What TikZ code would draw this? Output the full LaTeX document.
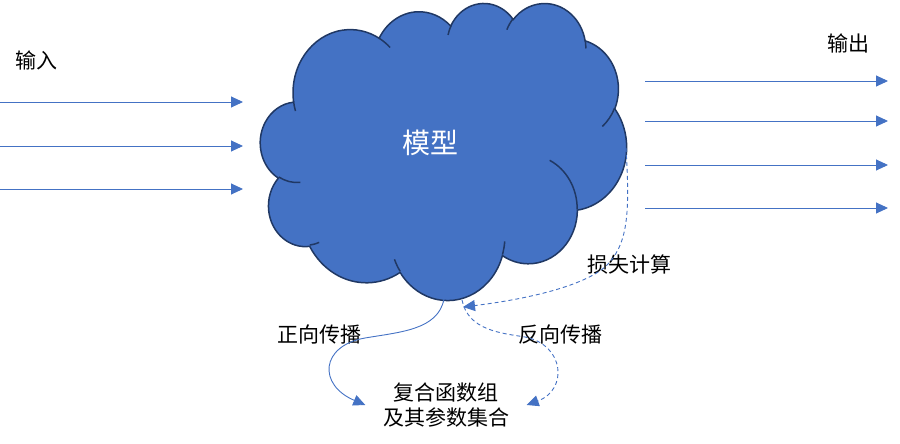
\documentclass[tikz,border=0pt]{standalone}
\usepackage{fontspec}
\setmainfont{Noto Sans CJK SC}
\usetikzlibrary{arrows.meta}

\definecolor{cloudblue}{HTML}{4472C4}
\definecolor{cloudedge}{HTML}{203864}

% one puff of the cloud: radii, start and sweep angle (office style angles)
\newcommand\cloudarc[4]{%
  \pgfextra{%
    \pgfmathparse{atan2(#1*sin(#3),#2*cos(#3))}\xdef\cas{\pgfmathresult}%
    \pgfmathparse{atan2(#1*sin(#3+#4),#2*cos(#3+#4))}\xdef\cae{\pgfmathresult}%
    \pgfmathparse{\cae-\cas-360*round((\cae-\cas-(#4))/360)}\xdef\cad{\pgfmathresult}%
  }
  arc[start angle=\cas, delta angle=\cad, x radius=#1, y radius=#2]}

\begin{document}
\begin{tikzpicture}[x=1pt,y=-1pt,
  feed/.style={draw=cloudblue, line width=0.9pt, -{Triangle[length=12pt,width=11pt]}},
  backfeed/.style={feed, dash pattern=on 4pt off 3pt},
  cloudshape/.style={draw=cloudedge, line width=1.5pt, fill=cloudblue},
  tag/.style={font=\fontsize{21}{25}\selectfont}]
\useasboundingbox (0,0) rectangle (900,444);

% the model cloud
\begin{scope}[shift={(260.5,2.5)}, x=0.84722pt, y=-0.6875pt]
\filldraw[cloudshape] (39.00,143.70)
  \cloudarc{67.53}{91.90}{-190.4875}{123.7805}
  \cloudarc{53.33}{72.67}{-144.1024}{89.9452}
  \cloudarc{43.65}{59.45}{-145.8079}{99.7230}
  \cloudarc{48.57}{65.95}{-130.9861}{117.2417}
  \cloudarc{53.33}{72.73}{-78.7089}{109.0269}
  \cloudarc{67.75}{92.20}{-46.2673}{130.2690}
  \cloudarc{57.85}{78.67}{0.6250}{114.0333}
  \cloudarc{67.52}{92.15}{22.4516}{115.1726}
  \cloudarc{77.20}{105.43}{66.2426}{75.7110}
  \cloudarc{43.60}{59.18}{-274.9421}{146.7356}
  \cloudarc{43.45}{59.45}{-246.8285}{152.5189}
  -- cycle;
\draw[cloudshape, fill=none]
  (46.93,261.77) \cloudarc{43.45}{59.45}{86.7420}{26.4295}
  (69.28,348.99) \cloudarc{43.60}{59.18}{73.6105}{11.4475}
  (164.78,390.90) \cloudarc{67.52}{92.15}{137.6242}{14.0811}
  (288.27,347.51) \cloudarc{67.52}{92.15}{6.4533}{15.9984}
  (341.29,229.54) \cloudarc{57.85}{78.67}{-70.2924}{70.9174}
  (417.98,153.54) \cloudarc{53.33}{72.73}{30.3180}{27.7515}
  (383.24,54.26) \cloudarc{48.57}{65.95}{-13.7443}{14.8589}
  (290.78,39.52) \cloudarc{48.57}{65.95}{-149.1815}{18.1954}
  (221.41,47.20) \cloudarc{43.65}{59.45}{-163.4943}{17.6864}
  (140.00,51.92) \cloudarc{67.53}{91.90}{-66.7070}{12.3194}
  (41.27,157.89) \cloudarc{67.53}{91.90}{157.6544}{11.8582};
\end{scope}
\node[font=\fontsize{28}{32}\selectfont, text=white] (model) at (430,143) {模型};

% inputs and outputs
\node[tag] (inlabel) at (37,60) {输入};
\node[tag] (outlabel) at (848,43) {输出};
\foreach \y [count=\i] in {102,146,189} {
  \coordinate (in\i) at (0,\y);
  \coordinate (inend\i) at (243,\y);
  \draw[feed] (in\i) -- (inend\i);
}
\foreach \y [count=\i] in {81,121,165,208} {
  \coordinate (out\i) at (645,\y);
  \coordinate (outend\i) at (888,\y);
  \draw[feed] (out\i) -- (outend\i);
}

% loss and the two passes
\coordinate (lossstart) at (626,148);
\coordinate (losstip) at (463,307);
\coordinate (fwdstart) at (444,299);
\coordinate (backstart) at (462,300);
\node[tag] (losslabel) at (629,265) {损失计算};
\node[tag] (fwdlabel) at (319,335) {正向传播};
\node[tag] (backlabel) at (560,335) {反向传播};
\node[tag, align=center, inner xsep=17.5pt, inner ysep=0pt] (params) at (446,405)
  {复合函数组\\及其参数集合};

\draw[backfeed] (lossstart) .. controls (630,215) and (628,245) .. (605,267)
  .. controls (580,288) and (520,300) .. (losstip);
\draw[feed] (fwdstart) .. controls (438,330) and (400,332) .. (365,338)
  .. controls (320,346) and (318,385) .. (params.west);
\draw[backfeed] (backstart) .. controls (468,330) and (500,333) .. (525,337)
  .. controls (565,345) and (568,390) .. (params.east);
\end{tikzpicture}
\end{document}
